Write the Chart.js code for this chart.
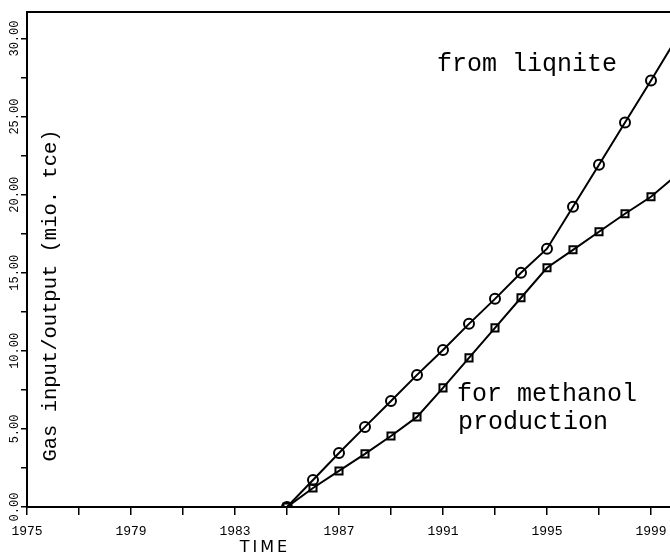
<!DOCTYPE html>
<html>
<head>
<meta charset="utf-8">
<script src="https://cdn.jsdelivr.net/npm/chart.js@4/dist/chart.umd.min.js"></script>
<style>
html, body { margin: 0; padding: 0; background: #fff; overflow: hidden; }
#wrap { width: 700px; height: 558px; }
</style>
</head>
<body>
<div id="wrap"><canvas id="gasChart" width="700" height="558"></canvas></div>
<script>
// data (mio. tce)
const years = [1985, 1986, 1987, 1988, 1989, 1990, 1991, 1992, 1993, 1994, 1995, 1996, 1997, 1998, 1999, 2000];
const fromLignite = [0, 1.73, 3.46, 5.13, 6.79, 8.46, 10.06, 11.73, 13.33, 15.0, 16.54, 19.23, 21.92, 24.62, 27.31, 30.06];
const forMethanol = [0, 1.22, 2.31, 3.40, 4.55, 5.77, 7.63, 9.55, 11.47, 13.40, 15.32, 16.47, 17.63, 18.78, 19.87, 21.28];

// axis ticks
const xTicks = [1975, 1977, 1979, 1981, 1983, 1985, 1987, 1989, 1991, 1993, 1995, 1997, 1999];
const xLabels = [1975, 1979, 1983, 1987, 1991, 1995, 1999];
const yTicks = [0, 2.5, 5, 7.5, 10, 12.5, 15, 17.5, 20, 22.5, 25, 27.5, 30];
const yLabels = [0, 5, 10, 15, 20, 25, 30];

const toPoints = vals => years.map((yr, i) => ({ x: yr, y: vals[i] }));

const monoFont = '"Liberation Mono", "DejaVu Sans Mono", monospace';

// labels written on the plot + frame
const notes = {
    id: 'notes',
    afterDraw(chart) {
        const { ctx, chartArea: a } = chart;
        const xs = chart.scales.x, ys = chart.scales.y;
        ctx.save();
        ctx.strokeStyle = '#000';
        ctx.lineWidth = 2;
        ctx.beginPath();
        ctx.moveTo(a.left, a.top);
        ctx.lineTo(a.right, a.top);
        ctx.lineTo(a.right, a.bottom);
        ctx.stroke();

        ctx.fillStyle = '#000';
        ctx.font = '25px ' + monoFont;
        ctx.textAlign = 'left';
        ctx.textBaseline = 'alphabetic';
        ctx.fillText('from liqnite', xs.getPixelForValue(1990.77), ys.getPixelForValue(27.9));
        ctx.fillText('for methanol', xs.getPixelForValue(1991.54), ys.getPixelForValue(6.8));
        ctx.fillText('production', xs.getPixelForValue(1991.58), ys.getPixelForValue(5.0));

        // y title, inside the frame
        ctx.save();
        ctx.translate(a.left + 24, (a.top + a.bottom) / 2 + 36);
        ctx.rotate(-Math.PI / 2);
        ctx.textAlign = 'center';
        ctx.textBaseline = 'middle';
        ctx.font = '20.5px ' + monoFont;
        ctx.fillText('Gas input/output (mio. tce)', 0, 0);
        ctx.restore();

        // x title
        ctx.font = '16px "DejaVu Sans", sans-serif';
        ctx.letterSpacing = '3px';
        ctx.textAlign = 'center';
        ctx.textBaseline = 'middle';
        ctx.fillText('TIME', 265, 548);
        ctx.restore();
    }
};

const lineSet = (label, vals, style) => ({
    label: label,
    data: toPoints(vals),
    borderColor: '#000',
    borderWidth: 2,
    pointStyle: style,
    pointRadius: 5,
    pointBorderWidth: 2,
    pointBorderColor: '#000',
    pointBackgroundColor: 'rgba(0,0,0,0)',
    tension: 0,
    fill: false
});

new Chart(document.getElementById('gasChart').getContext('2d'), {
    type: 'line',
    data: {
        datasets: [
            lineSet('from lignite', fromLignite, 'circle'),
            lineSet('for methanol production', forMethanol, 'rect')
        ]
    },
    options: {
        responsive: false,
        animation: false,
        layout: { padding: { top: 12, right: 23, left: 0, bottom: 0 } },
        scales: {
            x: {
                type: 'linear',
                min: 1975,
                max: 2000,
                afterBuildTicks: axis => { axis.ticks = xTicks.map(v => ({ value: v })); },
                afterFit: axis => { axis.height = 51; },
                ticks: {
                    color: '#000',
                    padding: 9,
                    maxRotation: 0,
                    autoSkip: false,
                    font: { family: monoFont, size: 13 },
                    callback: v => xLabels.includes(v) ? String(v) : ''
                },
                grid: { drawOnChartArea: false, tickLength: 8, color: '#000', lineWidth: 1.5 },
                border: { display: true, color: '#000', width: 2 }
            },
            y: {
                min: 0,
                max: 31.7,
                afterBuildTicks: axis => { axis.ticks = yTicks.map(v => ({ value: v })); },
                afterFit: axis => { axis.width = 27; },
                ticks: {
                    color: '#000',
                    minRotation: 90,
                    maxRotation: 90,
                    crossAlign: 'center',
                    padding: -12,
                    autoSkip: false,
                    font: { family: monoFont, size: 12 },
                    callback: v => yLabels.includes(v) ? v.toFixed(2) : ''
                },
                grid: { drawOnChartArea: false, tickLength: 6, color: '#000', lineWidth: 1.5 },
                border: { display: true, color: '#000', width: 2 }
            }
        },
        plugins: {
            legend: { display: false },
            tooltip: { enabled: false }
        }
    },
    plugins: [notes]
});
</script>
</body>
</html>
